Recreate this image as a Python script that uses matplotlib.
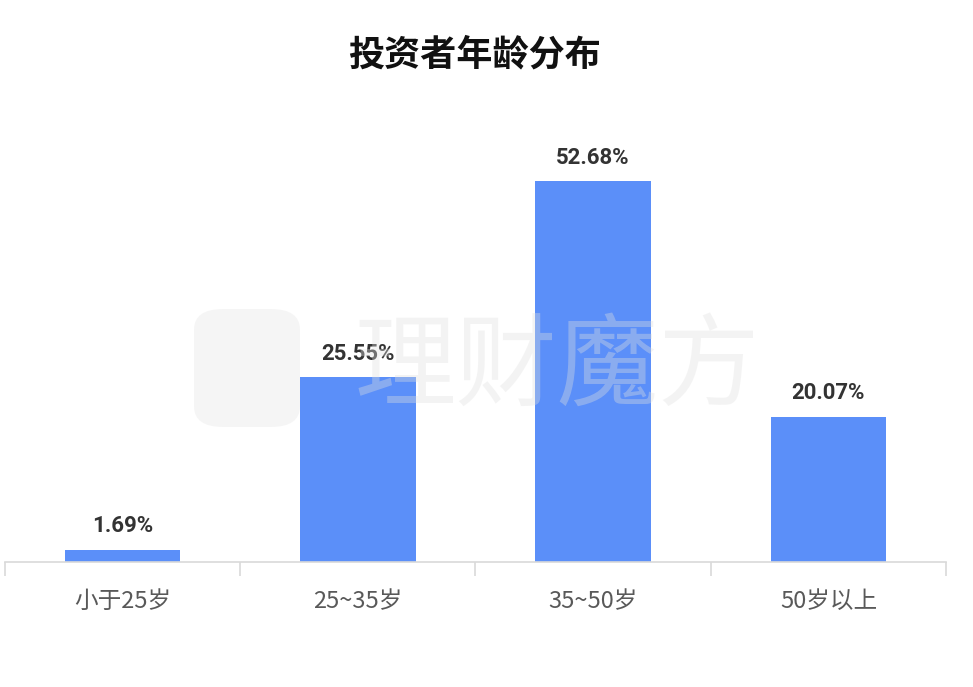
import matplotlib
matplotlib.use("Agg")
import matplotlib.pyplot as plt
from matplotlib.patches import FancyBboxPatch

categories = ["小于25岁", "25~35岁", "35~50岁", "50岁以上"]
values = [1.69, 25.55, 52.68, 20.07]
labels = ["1.69%", "25.55%", "52.68%", "20.07%"]
title = "投资者年龄分布"
watermark = "理财魔方"

plt.rcParams['font.family'] = ['Noto Sans CJK SC', 'DejaVu Sans']

W, H = 973, 687
fig = plt.figure(figsize=(W / 100, H / 100), dpi=100)
ax = fig.add_axes([5 / W, 1 - 562 / H, 941 / W, 462 / H])

x = list(range(len(categories)))
ax.bar(x, values, width=0.49, color="#5B8FF9", zorder=2)
ax.set_xlim(-0.5, len(categories) - 0.5)
ax.set_ylim(0, 63.9)

for xi, v, lab in zip(x, values, labels):
    ax.annotate(lab, (xi, v), xytext=(0, 9), textcoords="offset points",
                ha="center", va="bottom", fontsize=16, fontweight="bold",
                family=["Roboto", "DejaVu Sans"], color="#333333", zorder=5)

for s in ["top", "right", "left"]:
    ax.spines[s].set_visible(False)
ax.spines["bottom"].set_color("#d9d9d9")
ax.spines["bottom"].set_linewidth(1.2)
ax.set_yticks([])
ax.set_xticks([i - 0.5 for i in range(len(categories) + 1)], minor=False)
ax.set_xticklabels([])
ax.tick_params(axis="x", which="major", length=10, color="#d9d9d9", width=1.2)
ax.set_xticks(x, minor=True)
ax.set_xticklabels(categories, minor=True, fontsize=17, color="#595959")
ax.tick_params(axis="x", which="minor", length=0, pad=20)

fig.text(475 / W, 1 - 55 / H, title, ha="center", va="center", fontsize=26,
         fontweight="bold", color="#111111")

# watermark
fig.patches.append(FancyBboxPatch((194 / W, 1 - 427 / H), 106 / W, 118 / H,
                                  boxstyle="round,pad=0,rounding_size=0.03",
                                  transform=fig.transFigure, facecolor="#e0e0e0",
                                  alpha=0.3, edgecolor="none", zorder=10))
fig.text(557 / W, 1 - 368 / H, watermark, ha="center", va="center", fontsize=73,
         color="#e0e0e0", alpha=0.36, zorder=10)

fig.savefig("out.png", dpi=100)
